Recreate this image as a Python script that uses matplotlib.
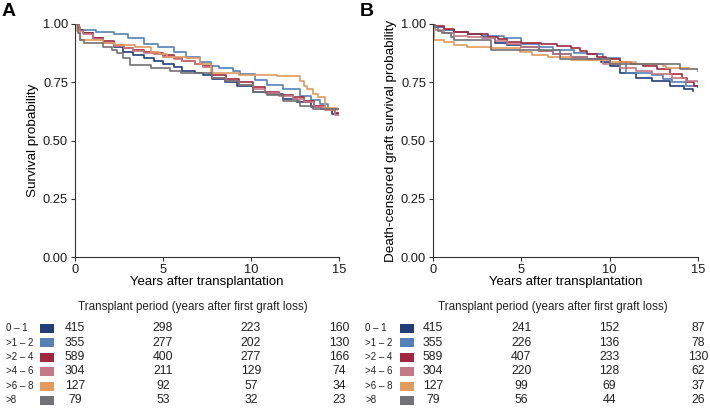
import matplotlib.pyplot as plt
import matplotlib.transforms as mtransforms
from matplotlib.patches import Rectangle

plt.rcParams['font.family'] = ['Liberation Sans', 'DejaVu Sans']

groups = ["0 \u2013 1", ">1 \u2013 2", ">2 \u2013 4", ">4 \u2013 6", ">6 \u2013 8", ">8"]
colors = ["#213d78", "#5581b6", "#a2283f", "#c57885", "#e29a5e", "#727276"]
risk_times = [0, 5, 10, 15]

# panel A: overall survival (step curves)
a_t = [
    [0, 0.2, 0.45, 1.0, 1.6, 2.2, 2.7, 3.3, 3.9, 4.5, 5.0, 5.6, 6.1, 6.8, 7.3, 7.8, 8.5, 9.2, 10.1, 10.9, 11.8, 12.6, 13.4, 14.0, 14.6, 15.0],
    [0, 0.15, 0.3, 1.2, 2.2, 3.0, 3.9, 4.7, 5.6, 6.3, 7.1, 7.7, 8.2, 9.0, 9.4, 10.2, 10.9, 11.8, 12.8, 13.4, 13.9, 14.4, 14.8, 15.0],
    [0, 0.2, 0.45, 1.0, 1.6, 2.2, 2.8, 3.3, 3.9, 4.5, 5.0, 5.6, 6.1, 6.8, 7.3, 7.8, 8.6, 9.3, 10.1, 10.8, 11.6, 12.4, 13.0, 13.6, 14.2, 14.8, 15.0],
    [0, 0.2, 0.45, 1.0, 1.6, 2.2, 2.8, 3.3, 3.9, 4.5, 5.0, 5.6, 6.1, 6.8, 7.3, 7.8, 8.6, 9.3, 10.1, 10.8, 11.6, 12.4, 13.0, 13.6, 14.2, 14.8, 15.0],
    [0, 0.1, 0.3, 0.9, 1.6, 2.3, 3.4, 4.3, 4.8, 5.2, 6.3, 7.1, 7.7, 8.2, 9.3, 11.5, 12.8, 13.0, 13.2, 13.5, 13.8, 14.2, 14.9],
    [0, 0.15, 0.3, 0.5, 1.2, 1.6, 2.1, 2.4, 2.7, 3.1, 4.3, 5.4, 6.0, 7.8, 8.5, 9.3, 10.1, 10.9, 11.8, 12.8, 13.5, 15.0],
]
a_s = [
    [1.0, 0.975, 0.96, 0.94, 0.917, 0.90, 0.88, 0.865, 0.853, 0.84, 0.83, 0.815, 0.80, 0.79, 0.78, 0.765, 0.75, 0.735, 0.71, 0.70, 0.68, 0.665, 0.645, 0.635, 0.615, 0.61],
    [1.0, 0.985, 0.974, 0.965, 0.955, 0.94, 0.916, 0.90, 0.88, 0.86, 0.837, 0.82, 0.81, 0.80, 0.786, 0.76, 0.74, 0.72, 0.69, 0.675, 0.656, 0.635, 0.613, 0.61],
    [1.0, 0.975, 0.96, 0.94, 0.925, 0.91, 0.897, 0.89, 0.88, 0.875, 0.865, 0.853, 0.84, 0.83, 0.82, 0.78, 0.765, 0.75, 0.728, 0.71, 0.695, 0.685, 0.67, 0.65, 0.635, 0.62, 0.62],
    [1.0, 0.97, 0.955, 0.935, 0.92, 0.905, 0.895, 0.885, 0.875, 0.87, 0.86, 0.85, 0.84, 0.827, 0.817, 0.77, 0.755, 0.74, 0.72, 0.705, 0.69, 0.68, 0.665, 0.645, 0.63, 0.61, 0.61],
    [1.0, 0.97, 0.93, 0.93, 0.917, 0.91, 0.903, 0.88, 0.87, 0.86, 0.853, 0.83, 0.79, 0.79, 0.78, 0.775, 0.757, 0.735, 0.72, 0.70, 0.685, 0.64, 0.63],
    [1.0, 0.96, 0.93, 0.917, 0.917, 0.903, 0.89, 0.875, 0.853, 0.824, 0.81, 0.80, 0.79, 0.77, 0.755, 0.74, 0.71, 0.695, 0.67, 0.65, 0.634, 0.634],
]

# panel B: death-censored graft survival
b_t = [
    [0, 0.1, 0.6, 1.2, 2.0, 2.8, 3.5, 4.2, 5.0, 6.0, 6.8, 7.8, 8.7, 9.5, 10.0, 10.6, 11.5, 12.4, 13.4, 14.2, 14.7],
    [0, 0.1, 0.6, 1.2, 2.0, 2.8, 3.5, 4.0, 5.0, 6.0, 6.8, 8.0, 8.7, 9.6, 10.6, 10.9, 12.4, 13.0, 13.5, 14.3, 15.0],
    [0, 0.1, 0.6, 1.2, 2.0, 3.1, 3.7, 4.2, 5.0, 6.1, 7.0, 7.8, 8.3, 8.7, 9.3, 9.8, 10.6, 11.2, 11.9, 12.7, 13.4, 14.1, 14.4, 14.8, 15.0],
    [0, 0.1, 0.6, 1.2, 2.0, 2.8, 3.5, 4.2, 5.0, 6.0, 6.8, 7.8, 8.7, 9.6, 10.6, 11.5, 12.4, 13.5, 14.3, 15.0],
    [0, 0.05, 0.65, 1.2, 1.9, 3.3, 4.9, 5.6, 6.5, 7.8, 10.0, 11.5, 13.0, 13.2, 14.5],
    [0, 0.1, 0.3, 0.5, 1.0, 1.2, 2.5, 3.3, 4.8, 7.2, 10.0, 14.0, 15.0],
]
b_s = [
    [1.0, 0.985, 0.975, 0.965, 0.955, 0.945, 0.92, 0.91, 0.90, 0.885, 0.873, 0.86, 0.85, 0.835, 0.82, 0.79, 0.77, 0.755, 0.735, 0.72, 0.712],
    [1.0, 0.985, 0.975, 0.965, 0.957, 0.95, 0.95, 0.94, 0.916, 0.90, 0.887, 0.875, 0.873, 0.855, 0.837, 0.79, 0.78, 0.765, 0.75, 0.735, 0.73],
    [1.0, 0.99, 0.98, 0.967, 0.955, 0.945, 0.935, 0.923, 0.92, 0.916, 0.905, 0.895, 0.885, 0.87, 0.86, 0.85, 0.837, 0.83, 0.82, 0.805, 0.786, 0.77, 0.75, 0.735, 0.73],
    [1.0, 0.975, 0.96, 0.95, 0.945, 0.94, 0.925, 0.915, 0.90, 0.885, 0.873, 0.86, 0.845, 0.83, 0.81, 0.80, 0.786, 0.77, 0.755, 0.75],
    [1.0, 0.93, 0.923, 0.91, 0.90, 0.895, 0.88, 0.865, 0.86, 0.845, 0.837, 0.83, 0.82, 0.81, 0.81],
    [1.0, 0.985, 0.97, 0.96, 0.945, 0.93, 0.93, 0.887, 0.887, 0.85, 0.83, 0.805, 0.80],
]

a_risk = [[415, 298, 223, 160], [355, 277, 202, 130], [589, 400, 277, 166],
          [304, 211, 129, 74], [127, 92, 57, 34], [79, 53, 32, 23]]
b_risk = [[415, 241, 152, 87], [355, 226, 136, 78], [589, 407, 233, 130],
          [304, 220, 128, 62], [127, 99, 69, 37], [79, 56, 44, 26]]

W, H = 710, 409
fig = plt.figure(figsize=(W / 100, H / 100), dpi=100)


def fx(px):
    return px / W


def fy(py):
    return 1 - py / H


axA = fig.add_axes([fx(75), fy(257), fx(339 - 75), (257 - 24) / H])
axB = fig.add_axes([fx(433), fy(257), fx(698 - 433), (257 - 24) / H])

row_y = [328, 342.5, 357, 371, 386, 400]

panels = [
    (axA, a_t, a_s, a_risk, "Survival probability", "A", 2, 6, 40, 193),
    (axB, b_t, b_s, b_risk, "Death-censored graft survival probability", "B", 360, 365, 400, 553),
]

for ax, ts, ss, risk, ylab, tag, tag_x, lab_x, sq_x, head_x in panels:
    for t, s, c in zip(ts, ss, colors):
        ax.step(t, s, where="post", color=c, lw=1.2)
    ax.set_xlim(0, 15)
    ax.set_ylim(0, 1)
    ax.set_xticks([0, 5, 10, 15])
    ax.set_yticks([0, 0.25, 0.5, 0.75, 1.0])
    ax.set_yticklabels(["0.00", "0.25", "0.50", "0.75", "1.00"])
    for sp in ["top", "right"]:
        ax.spines[sp].set_visible(False)
    for sp in ["left", "bottom"]:
        ax.spines[sp].set_color("#333333")
        ax.spines[sp].set_linewidth(0.8)
    ax.tick_params(length=3, width=0.8, color="#333333", labelsize=9.3,
                   labelcolor="#1a1a1a", pad=2)
    ax.set_xlabel("Years after transplantation", fontsize=9.5, labelpad=0)
    ax.set_ylabel(ylab, fontsize=9.7, labelpad=3)
    fig.text(fx(tag_x), fy(12), tag, fontsize=14, fontweight="bold",
             va="center", ha="left")

    # risk table
    fig.text(fx(head_x), fy(307), "Transplant period (years after first graft loss)",
             fontsize=8.4, ha="center", va="center", color="#222222")
    trans = mtransforms.blended_transform_factory(ax.transData, fig.transFigure)
    for i, (g, c) in enumerate(zip(groups, colors)):
        y = fy(row_y[i])
        fig.text(fx(lab_x), y, g, fontsize=7, ha="left", va="center", color="#222222")
        fig.patches.append(Rectangle((fx(sq_x), y - 4.5 / H), 14 / W, 9 / H,
                                     transform=fig.transFigure, color=c, lw=0))
        for tt, n in zip(risk_times, risk[i]):
            fig.text(tt, y, str(n), transform=trans, fontsize=8.8,
                     ha="center", va="center", color="#222222")

fig.savefig("out.png", dpi=100)
